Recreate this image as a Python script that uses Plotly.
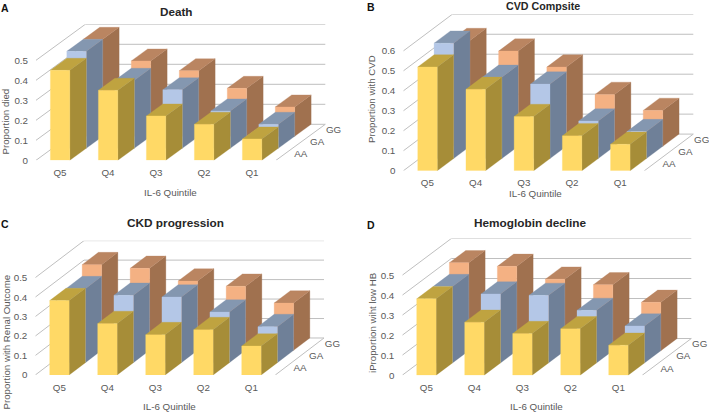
"""Four oblique 3D-style bar panels: IL-6 quintile by genotype."""

import plotly.graph_objects as go

WIDTH = 709
HEIGHT = 412
FONT = "Liberation Sans"

QUINTILES = ["Q5", "Q4", "Q3", "Q2", "Q1"]
GENOTYPES = ["AA", "GA", "GG"]

DEATH_AA = [0.45, 0.35, 0.222, 0.18, 0.107]
DEATH_GA = [0.485, 0.34, 0.293, 0.187, 0.12]
DEATH_GG = [0.485, 0.377, 0.328, 0.24, 0.147]

CVD_AA = [0.52, 0.408, 0.272, 0.175, 0.133]
CVD_GA = [0.578, 0.407, 0.373, 0.188, 0.135]
CVD_GG = [0.53, 0.477, 0.397, 0.26, 0.18]

CKD_AA = [0.382, 0.264, 0.207, 0.233, 0.149]
CKD_GA = [0.38, 0.346, 0.337, 0.26, 0.185]
CKD_GG = [0.44, 0.421, 0.356, 0.329, 0.243]

HB_AA = [0.382, 0.265, 0.208, 0.232, 0.15]
HB_GA = [0.382, 0.345, 0.338, 0.263, 0.185]
HB_GG = [0.44, 0.422, 0.358, 0.33, 0.242]

# front, top, side
COLORS = {
    "AA": ("#FFD966", "#BFA340", "#A68D38"),
    "GA": ("#B4C7E7", "#8497B0", "#6F8098"),
    "GG": ("#F4B183", "#BA8561", "#A0714F"),
}
GRID = "#BFBFBF"
TEXT = "#595959"

BAR_LEFT = 0.3
BAR_RIGHT = 0.705
LABEL_ROOM = 0.3  # extra x range to the right so the GG label is not dropped

# geometry in page pixels: front-left corner of the floor, scale, depth of the floor
PANELS = [
    dict(letter="A", title="Death", title_size=11.7, title_xy=(176, 12), letter_xy=(5, 8),
         ytitle="Proportion died", ytitle_xy=(5.5, 122), xtitle_xy=(170, 192), xtick_len=3,
         series=[DEATH_AA, DEATH_GA, DEATH_GG], vmax=0.5,
         x0=36, y0=160.3, floor_w=240, scale=200, depth_x=49.3, depth_y=36),
    dict(letter="B", title="CVD Compsite", title_size=10.7, title_xy=(543, 6), letter_xy=(371, 7),
         ytitle="Proportion with CVD", ytitle_xy=(371, 99), xtitle_xy=(535, 193.5), xtick_len=2,
         series=[CVD_AA, CVD_GA, CVD_GG], vmax=0.6,
         x0=403.3, y0=170.8, floor_w=241, scale=199.7, depth_x=49, depth_y=36.7),
    dict(letter="C", title="CKD progression", title_size=11.8, title_xy=(175, 223), letter_xy=(5, 224),
         ytitle="Proportion with Renal Outcome", ytitle_xy=(5.5, 342), xtitle_xy=(169, 406), xtick_len=3,
         series=[CKD_AA, CKD_GA, CKD_GG], vmax=0.5,
         x0=35.3, y0=375, floor_w=240, scale=194.7, depth_x=48.7, depth_y=37),
    dict(letter="D", title="Hemoglobin decline", title_size=11.8, title_xy=(530, 223), letter_xy=(371, 225),
         ytitle="iProportion wiht low HB", ytitle_xy=(372, 323), xtitle_xy=(536, 406.5), xtick_len=3,
         series=[HB_AA, HB_GA, HB_GG], vmax=0.5,
         x0=402.3, y0=375.2, floor_w=240, scale=200, depth_x=49, depth_y=36.7),
]


def face_trace(polys, color, n):
    """One filled trace holding several polygons, split by None."""
    xs, ys = [], []
    for poly in polys:
        xs += [p[0] for p in poly] + [poly[0][0], None]
        ys += [p[1] for p in poly] + [poly[0][1], None]
    return go.Scatter(x=xs, y=ys, xaxis=f"x{n}", yaxis=f"y{n}", mode="lines", fill="toself",
                      fillcolor=color, line=dict(color=color, width=0.3), hoverinfo="skip",
                      showlegend=False)


def line_trace(xs, ys, n):
    return go.Scatter(x=xs, y=ys, xaxis=f"x{n}", yaxis=f"y{n}", mode="lines",
                      line=dict(color=GRID, width=1), hoverinfo="skip", showlegend=False)


fig = go.Figure()
annotations = []
layout = {}


def page_text(text, xy, size, color=TEXT, bold=False, angle=0):
    annotations.append(dict(text=f"<b>{text}</b>" if bold else text, x=xy[0] / WIDTH, y=1 - xy[1] / HEIGHT,
                            xref="paper", yref="paper", xanchor="center", yanchor="middle",
                            showarrow=False, textangle=angle, font=dict(family=FONT, size=size, color=color)))


for n, p in enumerate(PANELS, start=1):
    cat_px = p["floor_w"] / len(QUINTILES)
    dc = p["depth_x"] / 3 / cat_px  # x shift of one genotype row, in categories
    dv = p["depth_y"] / 3 / p["scale"]  # y shift of one genotype row, in value units
    vticks = [i / 10 for i in range(int(round(p["vmax"] * 10)) + 1)]
    xback = len(QUINTILES) + 3 * dc
    xmax = xback + LABEL_ROOM
    ymax = p["vmax"] + 3 * dv

    # walls and floor
    for v in vticks:
        line = [(0, v), (3 * dc, v + 3 * dv), (xback, v + 3 * dv)]
        fig.add_trace(line_trace([a for a, _ in line], [b for _, b in line], n))
    fig.add_trace(line_trace([len(QUINTILES), xback], [0, 3 * dv], n))

    # back row first so the front rows paint over it
    for d in reversed(range(len(GENOTYPES))):
        values = p["series"][d]
        front, top, side = [], [], []
        for i, v in enumerate(values):
            xl, xr = i + BAR_LEFT + d * dc, i + BAR_RIGHT + d * dc
            base, high = d * dv, v + d * dv
            front.append([(xl, base), (xr, base), (xr, high), (xl, high)])
            top.append([(xl, high), (xr, high), (xr + dc, high + dv), (xl + dc, high + dv)])
            side.append([(xr, base), (xr + dc, base + dv), (xr + dc, high + dv), (xr, high)])
        colors = COLORS[GENOTYPES[d]]
        fig.add_trace(face_trace(side, colors[2], n))
        fig.add_trace(face_trace(top, colors[1], n))
        fig.add_trace(face_trace(front, colors[0], n))

    # genotype labels along the right edge of the floor
    fig.add_trace(go.Scatter(
        x=[len(QUINTILES) + (d + 0.5) * dc + 0.344 for d in range(len(GENOTYPES))],
        y=[(d + 0.5) * dv for d in range(len(GENOTYPES))],
        text=GENOTYPES, mode="text", textposition="middle center", cliponaxis=False,
        textfont=dict(family=FONT, size=9.8, color=TEXT),
        xaxis=f"x{n}", yaxis=f"y{n}", hoverinfo="skip", showlegend=False))

    suffix = "" if n == 1 else str(n)
    x_right = p["x0"] + xmax * cat_px
    y_top = p["y0"] - p["scale"] * ymax
    layout[f"xaxis{suffix}"] = dict(
        domain=[p["x0"] / WIDTH, x_right / WIDTH], range=[0, xmax], anchor=f"y{suffix}",
        tickmode="array", tickvals=[i + 0.5 for i in range(len(QUINTILES))], ticktext=QUINTILES,
        ticks="outside", ticklen=p["xtick_len"], tickcolor="rgba(0,0,0,0)", showgrid=False, zeroline=False,
        showline=False, tickfont=dict(family=FONT, size=9.8, color=TEXT))
    layout[f"yaxis{suffix}"] = dict(
        domain=[1 - p["y0"] / HEIGHT, 1 - y_top / HEIGHT], range=[0, ymax], anchor=f"x{suffix}",
        tickmode="array", tickvals=vticks, ticktext=[f"{v:g}" for v in vticks],
        ticks="outside", ticklen=5, tickcolor="rgba(0,0,0,0)", showgrid=False, zeroline=False,
        showline=False, tickfont=dict(family=FONT, size=9.8, color=TEXT))

    page_text(p["letter"], p["letter_xy"], 10.5, color="#111111", bold=True)
    page_text(p["title"], p["title_xy"], p["title_size"], color="#262626", bold=True)
    page_text("IL-6 Quintile", p["xtitle_xy"], 9.8)
    page_text(p["ytitle"], p["ytitle_xy"], 9.7, angle=-90)

# autoexpand off: edge annotations must not squeeze the plot area
fig.update_layout(width=WIDTH, height=HEIGHT, margin=dict(l=0, r=0, t=0, b=0, autoexpand=False),
                  paper_bgcolor="white", plot_bgcolor="white", showlegend=False,
                  annotations=annotations, **layout)
# the default page has an 8px body margin, which would shift the whole figure
fig.write_html("out.html", config=dict(displayModeBar=False),
               post_script="document.body.style.margin='0';document.body.style.overflow='hidden';")
